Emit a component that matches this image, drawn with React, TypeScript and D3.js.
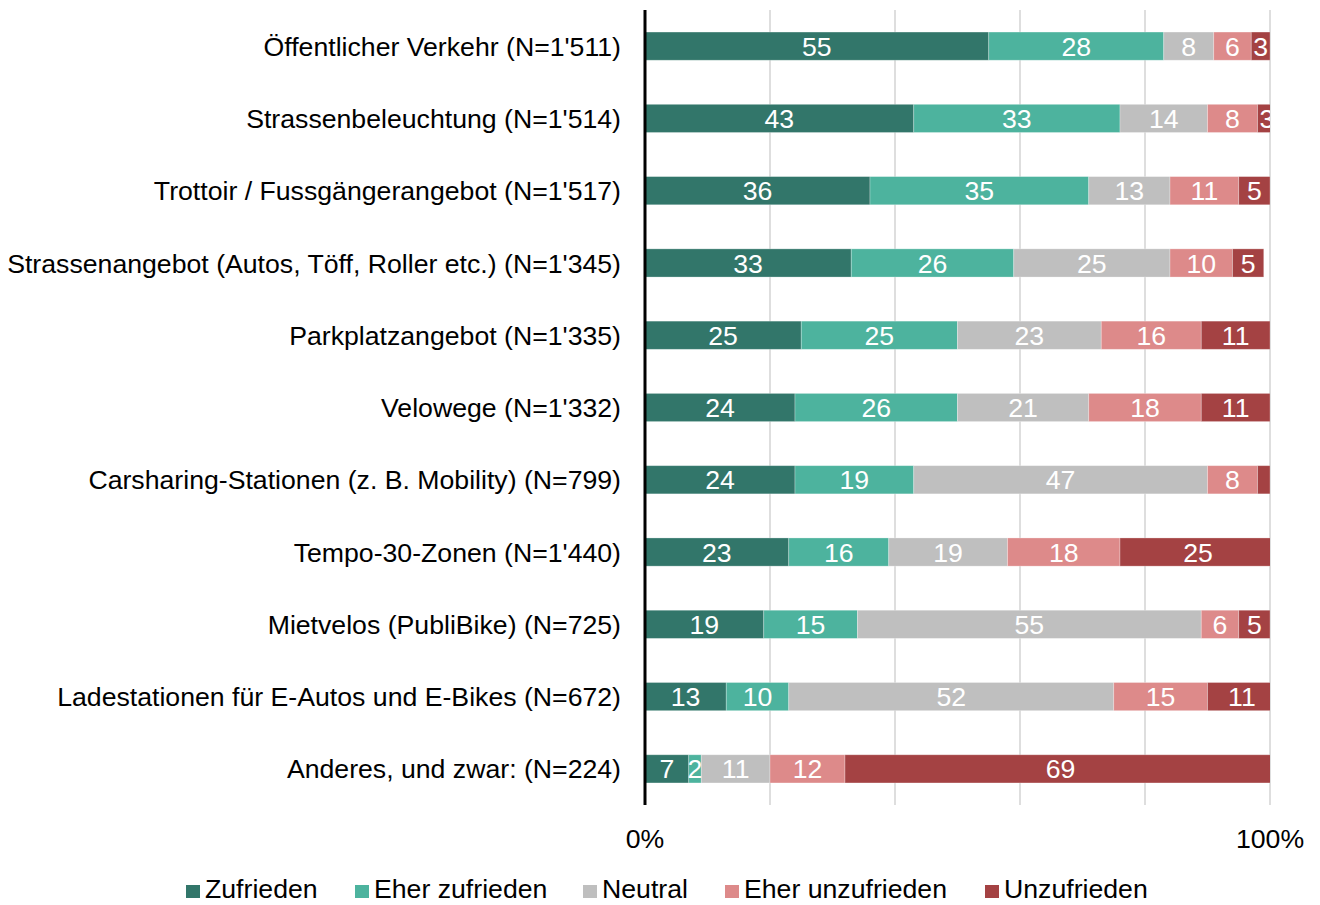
import React from "react";
import * as d3 from "d3";

const categories = [
  "Öffentlicher Verkehr (N=1'511)",
  "Strassenbeleuchtung (N=1'514)",
  "Trottoir / Fussgängerangebot (N=1'517)",
  "Strassenangebot (Autos, Töff, Roller etc.) (N=1'345)",
  "Parkplatzangebot (N=1'335)",
  "Velowege (N=1'332)",
  "Carsharing-Stationen (z. B. Mobility) (N=799)",
  "Tempo-30-Zonen (N=1'440)",
  "Mietvelos (PubliBike) (N=725)",
  "Ladestationen für E-Autos und E-Bikes (N=672)",
  "Anderes, und zwar: (N=224)",
];

const seriesNames = ["Zufrieden", "Eher zufrieden", "Neutral", "Eher unzufrieden", "Unzufrieden"];

const zufrieden = [55, 43, 36, 33, 25, 24, 24, 23, 19, 13, 7];
const eherZufrieden = [28, 33, 35, 26, 25, 26, 19, 16, 15, 10, 2];
const neutral = [8, 14, 13, 25, 23, 21, 47, 19, 55, 52, 11];
const eherUnzufrieden = [6, 8, 11, 10, 16, 18, 8, 18, 6, 15, 12];
const unzufrieden = [3, 3, 5, 5, 11, 11, 2, 25, 5, 11, 69];

// labels not displayed in the reference: [categoryIndex, seriesIndex]
const hiddenLabels = [[6, 4]];

const xTicks = [0, 20, 40, 60, 80, 100];
const xTickLabels = ["0%", "", "", "", "", "100%"];

const colors = ["#32766A", "#4DB39E", "#BFBFBF", "#DD8A8A", "#A44243"];

const W = 1320;
const H = 905;
const left = 645;
const right = 1270;
const top = 10;
const bottom = 805;
const FONT = "'Liberation Sans', Arial, sans-serif";
const FS = 26.67;
const legendX = [186, 355, 583, 725, 985];

export default function App() {
  const series = [zufrieden, eherZufrieden, neutral, eherUnzufrieden, unzufrieden];
  const x = d3.scaleLinear().domain([0, 100]).range([left, right]);
  const y = d3
    .scaleBand<string>()
    .domain(categories)
    .range([top, bottom])
    .paddingInner(0.61)
    .paddingOuter(0.305);

  const table = categories.map((c, i) => {
    const row: Record<string, any> = { cat: c };
    seriesNames.forEach((s, j) => (row[s] = series[j][i]));
    return row;
  });
  const stacked = d3.stack<Record<string, any>>().keys(seriesNames)(table);

  const isHidden = (i: number, j: number) => hiddenLabels.some(([a, b]) => a === i && b === j);

  return (
    <svg width={W} height={H} style={{ position: "absolute", left: 0, top: 0, background: "#fff" }}>
      <defs>
        <clipPath id="plotClip">
          <rect x={left} y={0} width={right - left} height={H} />
        </clipPath>
      </defs>
      {/* gridlines */}
      {xTicks.slice(1).map((t) => (
        <line key={t} x1={x(t)} x2={x(t)} y1={top} y2={bottom} stroke="#C8C8C8" strokeWidth={1.2} />
      ))}
      <g clipPath="url(#plotClip)">
        {stacked.map((layer, j) =>
          layer.map((d, i) => (
            <rect
              key={`${j}-${i}`}
              x={x(d[0])}
              y={y(categories[i])!}
              width={x(d[1]) - x(d[0])}
              height={y.bandwidth()}
              fill={colors[j]}
              stroke="#ffffff"
              strokeOpacity={0.35}
              strokeWidth={0.8}
            />
          ))
        )}
        {stacked.map((layer, j) =>
          layer.map((d, i) =>
            isHidden(i, j) ? null : (
              <text
                key={`t${j}-${i}`}
                x={(x(d[0]) + x(d[1])) / 2}
                y={y(categories[i])! + y.bandwidth() / 2}
                dy="0.36em"
                textAnchor="middle"
                fill="#ffffff"
                fontFamily={FONT}
                fontSize={FS}
              >
                {series[j][i]}
              </text>
            )
          )
        )}
      </g>
      {/* axis line */}
      <line x1={left} x2={left} y1={top} y2={bottom} stroke="#000" strokeWidth={3} />
      {/* category labels */}
      {categories.map((c) => (
        <text
          key={c}
          x={621}
          y={y(c)! + y.bandwidth() / 2}
          dy="0.36em"
          textAnchor="end"
          fill="#000"
          fontFamily={FONT}
          fontSize={FS}
        >
          {c}
        </text>
      ))}
      {/* x tick labels */}
      {xTicks.map((t, i) =>
        xTickLabels[i] ? (
          <text
            key={`xl${t}`}
            x={x(t)}
            y={838}
            dy="0.36em"
            textAnchor="middle"
            fill="#000"
            fontFamily={FONT}
            fontSize={FS}
          >
            {xTickLabels[i]}
          </text>
        ) : null
      )}
      {/* legend */}
      {seriesNames.map((s, j) => (
        <g key={s} transform={`translate(${legendX[j]},898)`}>
          <rect x={0} y={-13} width={14} height={13} fill={colors[j]} />
          <text x={19} y={0} fill="#000" fontFamily={FONT} fontSize={FS}>
            {s}
          </text>
        </g>
      ))}
    </svg>
  );
}
